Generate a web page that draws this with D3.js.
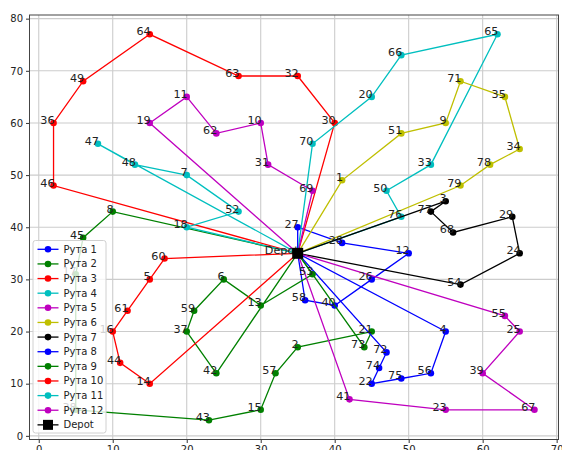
<!DOCTYPE html>
<html>
<head>
<meta charset="utf-8">
<script src="https://cdn.jsdelivr.net/npm/d3@7"></script>
<style>
  html, body { margin: 0; padding: 0; background: #fff; }
  svg { display: block; font-family: "DejaVu Sans", sans-serif; }
</style>
</head>
<body>
<svg id="chart" width="562" height="450"></svg>
<script>
// ---- data ----
const depot = [35, 35];
const nodeIds = [1,2,3,4,5,6,7,8,9,10,11,12,13,14,15,16,17,18,19,20,21,22,23,24,25,26,27,28,29,30,31,32,33,34,35,36,37,38,39,40,41,42,43,44,45,46,47,48,49,50,51,52,53,54,55,56,57,58,59,60,61,62,63,64,65,66,67,68,69,70,71,72,73,74,75,76,77,78,79];
const nodeX = [41,35,55,55,15,25,20,10,55,30,20,50,30,15,30,10,5,20,15,45,45,45,55,65,65,45,35,41,64,40,31,35,53,65,63,2,20,5,60,40,42,24,23,11,6,2,8,13,6,47,49,27,37,57,63,53,32,36,21,17,12,24,27,15,62,49,67,56,37,37,57,47,44,46,49,49,53,61,57];
const nodeY = [49,17,45,20,30,30,50,43,60,60,65,35,25,10,5,20,31,40,60,65,20,10,5,35,20,30,40,37,42,60,52,69,52,55,65,60,20,5,12,25,7,12,3,14,38,48,56,52,68,47,58,43,31,29,23,12,12,26,24,34,24,58,69,77,77,73,5,39,47,56,68,16,17,13,11,42,43,52,48];

const route1 = [27, 28, 12, 26, 40, 58];
const route2 = [8, 45, 17, 38, 43, 15, 57, 2, 21, 73];
const route3 = [30, 32, 63, 64, 49, 36, 46];
const route4 = [76, 50, 33, 65, 66, 20, 70];
const route5 = [69, 31, 10, 62, 11, 19];
const route6 = [1, 51, 9, 71, 35, 34, 78, 79];
const route7 = [54, 24, 29, 68, 77, 3];
const route8 = [4, 56, 75, 22, 74, 72];
const route9 = [53, 13, 6, 59, 37, 42];
const route10 = [60, 5, 61, 16, 44, 14];
const route11 = [18, 52, 7, 48, 47];
const route12 = [55, 25, 39, 67, 23, 41];
const routes = [route1, route2, route3, route4, route5, route6, route7, route8, route9, route10, route11, route12];
const routeNames = ["Рута 1","Рута 2","Рута 3","Рута 4","Рута 5","Рута 6","Рута 7","Рута 8","Рута 9","Рута 10","Рута 11","Рута 12"];
const routeColors = ["#0000ff","#008000","#ff0000","#00bfbf","#bf00bf","#bfbf00","#000000"];
const xTicks = [0,10,20,30,40,50,60,70];
const yTicks = [0,10,20,30,40,50,60,70,80];

// ---- chart ----
const svg = d3.select("#chart");
const W = 562, H = 450;
const L = 29.5, R = 558.5, T = 15, B = 439.5;
const x = d3.scaleLinear().domain([-1.25, 70.25]).range([L, R]);
const y = d3.scaleLinear().domain([-0.7, 80.7]).range([B, T]);

svg.append("rect").attr("width", W).attr("height", H).attr("fill", "#fff");

// grid
const grid = svg.append("g");
grid.selectAll("line.gx").data(xTicks).join("line")
  .attr("x1", d => x(d)).attr("x2", d => x(d)).attr("y1", T).attr("y2", B)
  .attr("stroke", "#cccccc").attr("stroke-width", 1.1);
grid.selectAll("line.gy").data(yTicks).join("line")
  .attr("y1", d => y(d)).attr("y2", d => y(d)).attr("x1", L).attr("x2", R)
  .attr("stroke", "#cccccc").attr("stroke-width", 1.1);

// axes
const xAxis = svg.append("g").attr("transform", `translate(0,${B})`)
  .call(d3.axisBottom(x).tickValues(xTicks).tickSize(3.5).tickPadding(3).tickFormat(d3.format("d")));
const yAxis = svg.append("g").attr("transform", `translate(${L},0)`)
  .call(d3.axisLeft(y).tickValues(yTicks).tickSize(3.5).tickPadding(3).tickFormat(d3.format("d")));
[xAxis, yAxis].forEach(a => {
  a.select(".domain").remove();
  a.selectAll("text").attr("font-size", "10px").attr("fill", "#222").attr("font-family", "DejaVu Sans");
  a.selectAll("line").attr("stroke", "#333");
});
// frame
svg.append("rect").attr("x", L).attr("y", T).attr("width", R - L).attr("height", B - T)
  .attr("fill", "none").attr("stroke", "#444").attr("stroke-width", 1);

const pos = id => { const i = nodeIds.indexOf(id); return [nodeX[i], nodeY[i]]; };
const line = d3.line().x(d => x(d[0])).y(d => y(d[1]));

const plot = svg.append("g");
routes.forEach((r, ri) => {
  const color = routeColors[ri % routeColors.length];
  const pts = [depot, ...r.map(pos), depot];
  plot.append("path").attr("d", line(pts)).attr("fill", "none")
    .attr("stroke", color).attr("stroke-width", 1.3);
  plot.selectAll(null).data(pts).join("circle")
    .attr("cx", d => x(d[0])).attr("cy", d => y(d[1])).attr("r", 3.3)
    .attr("fill", color);
});

// labels
const labels = svg.append("g").attr("font-size", "11.2px").attr("fill", "#222").attr("text-anchor", "end");
labels.selectAll("text").data(nodeIds).join("text")
  .attr("x", (d, i) => x(nodeX[i]) + 1).attr("y", (d, i) => y(nodeY[i]) + 1)
  .text(d => d);
labels.append("text").attr("x", x(depot[0]) + 1).attr("y", y(depot[1]) + 1).text("Depot");

// depot marker
svg.append("rect").attr("x", x(depot[0]) - 5.5).attr("y", y(depot[1]) - 5.5)
  .attr("width", 11).attr("height", 11).attr("fill", "#000");

// legend
const lg = svg.append("g");
const lx = 33, ly = 240.5, lw = 73, lh = 192.5;
lg.append("rect").attr("x", lx).attr("y", ly).attr("width", lw).attr("height", lh)
  .attr("rx", 2.5).attr("fill", "#fff").attr("fill-opacity", 0.8)
  .attr("stroke", "#d0d0d0").attr("stroke-width", 1);
const legendItems = routeNames.map((n, i) => ({ name: n, color: routeColors[i % routeColors.length], depot: false }))
  .concat([{ name: "Depot", color: "#000", depot: true }]);
const row = lg.selectAll("g.item").data(legendItems).join("g")
  .attr("transform", (d, i) => `translate(0,${249.3 + i * 14.63})`);
row.append("line").attr("x1", 37.5).attr("x2", 58.5).attr("y1", 0).attr("y2", 0)
  .attr("stroke", d => d.color).attr("stroke-width", 1.3);
row.filter(d => !d.depot).append("circle").attr("cx", 48).attr("cy", 0).attr("r", 3.3).attr("fill", d => d.color);
row.filter(d => d.depot).append("rect").attr("x", 43).attr("y", -5).attr("width", 10).attr("height", 10).attr("fill", "#000");
row.append("text").attr("x", 63.5).attr("y", 0).attr("dy", "0.35em")
  .attr("font-size", "10px").attr("fill", "#222").text(d => d.name);
</script>
</body>
</html>
